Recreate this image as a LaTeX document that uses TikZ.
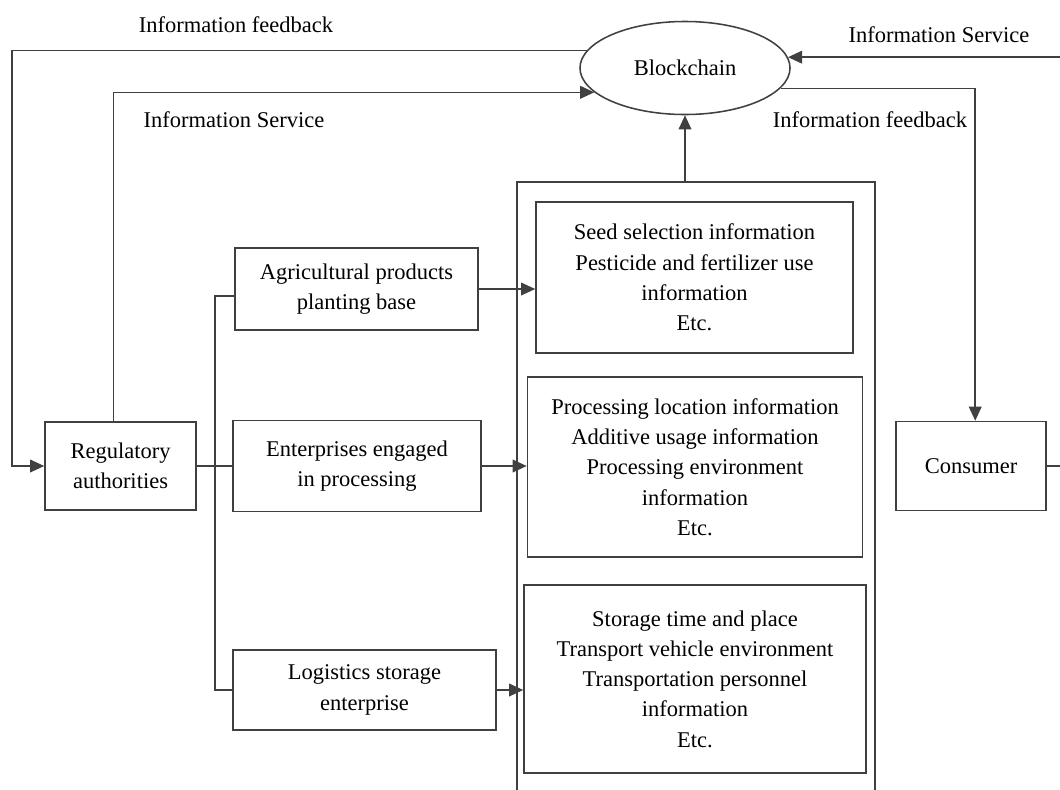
\documentclass[tikz,border=0pt]{standalone}
\usepackage{fontspec}
\newfontfamily\figfont{Liberation Serif}
\usepackage{tikz}
\usetikzlibrary{arrows.meta, shapes.geometric, calc}

\begin{document}
\begin{tikzpicture}[x=0.025cm, y=-0.025cm, line width=1.1pt, draw=black!75,
        every node/.style={font=\figfont\fontsize{16}{21.5}\selectfont, align=center, inner sep=0pt},
        box/.style={draw=black!75, rectangle},
        flow/.style={-{Triangle[length=10pt, width=9pt]}}]
        \useasboundingbox (0,0) rectangle (1060,790);

        \node[box, ellipse, minimum width=5.25cm, minimum height=2.325cm] (chain) at (685,68) {Blockchain};
        \node[box, minimum width=3.775cm, minimum height=2.2cm] (reg) at (120.5,466) {Regulatory\\authorities};
        \node[box, minimum width=6.075cm, minimum height=2.05cm] (agri) at (356.5,289) {Agricultural products\\planting base};
        \node[box, minimum width=6.2cm, minimum height=2.275cm] (proc) at (357,466) {Enterprises engaged\\in processing};
        \node[box, minimum width=6.575cm, minimum height=2cm] (logi) at (364.5,690) {Logistics storage\\enterprise};
        \node[box, minimum width=3.75cm, minimum height=2.225cm] (cons) at (971,466) {Consumer};

        \node[box, minimum width=8.95cm, minimum height=15.5cm] (chainbox) at (696,492) {};
        \node[box, minimum width=7.925cm, minimum height=3.775cm] (info1) at (694.5,277.5)
            {Seed selection information\\Pesticide and fertilizer use\\information\\Etc.};
        \node[box, minimum width=8.375cm, minimum height=4.5cm] (info2) at (695,467)
            {Processing location information\\Additive usage information\\Processing environment\\information\\Etc.};
        \node[box, minimum width=8.55cm, minimum height=4.7cm] (info3) at (695,679)
            {Storage time and place\\Transport vehicle environment\\Transportation personnel\\information\\Etc.};

        \node (fb1) at (236,25) {Information feedback};
        \node (svc1) at (234,120) {Information Service};
        \node (svc2) at (939,35) {Information Service};
        \node (fb2) at (870,120) {Information feedback};

        \draw[flow] (chain.170) -| ($(reg.west)+(-32,0)$) -- (reg.west);
        \draw[flow] ([xshift=-5pt]reg.north) |- (chain.195);
        \draw[flow] (cons.east) -- ++(40,0) |- (chain.6);
        \draw[flow] (chain.348) -| ([xshift=3pt]cons.north);
        \draw[flow] (chain.south |- chainbox.north) -- (chain.south);

        \draw (reg.east) -- (proc.west);
        \draw ([yshift=-5pt]agri.west) -- ++(-19,0) |- (logi.west);

        \draw[flow] (agri.east) -- (agri.east -| info1.west);
        \draw[flow] (proc.east) -- (proc.east -| info2.west);
        \draw[flow] (logi.east) -- (logi.east -| info3.west);
    \end{tikzpicture}
\end{document}
